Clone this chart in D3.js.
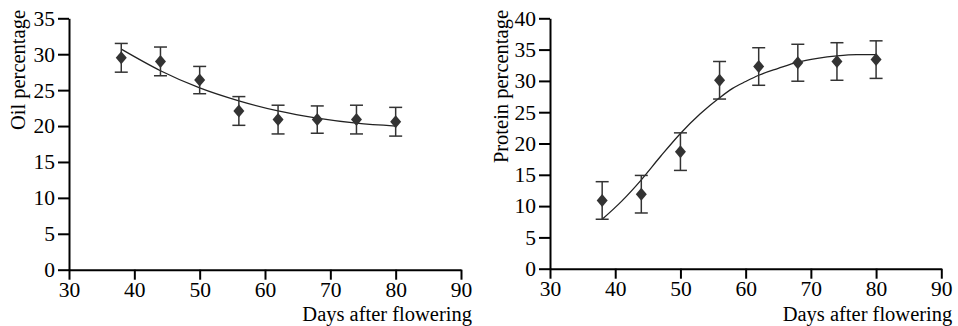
<!DOCTYPE html>
<html>
<head>
<meta charset="utf-8">
<script src="https://cdn.jsdelivr.net/npm/d3@7/dist/d3.min.js"></script>
<style>
body { margin: 0; background: #fff; }
svg text { font-family: "Liberation Serif", "Times New Roman", serif; }
</style>
</head>
<body>
<div id="chart"></div>
<script>
var WIDTH = 958;
var HEIGHT = 326;

var days = [38, 44, 50, 56, 62, 68, 74, 80];
var oilMean = [29.5, 29.0, 26.4, 22.1, 20.9, 20.9, 20.9, 20.6];
var oilErr = [2.0, 2.0, 1.9, 2.0, 2.0, 1.9, 2.0, 2.0];
var oilFitDays = [38, 44, 50, 56, 62, 68, 74, 80];
var oilFit = [30.7, 27.7, 25.3, 23.5, 22.1, 21.1, 20.4, 20.0];

var proteinMean = [10.9, 11.9, 18.7, 30.1, 32.3, 32.9, 33.1, 33.4];
var proteinErr = [3.0, 3.0, 3.0, 3.0, 3.0, 2.95, 3.0, 3.0];
var proteinFitDays = [38, 41, 44, 47, 50, 53, 56, 58, 60, 62, 65, 68, 71, 74, 77, 80];
var proteinFit = [7.9, 10.8, 14.2, 18.0, 21.6, 24.7, 27.3, 28.8, 29.9, 30.9, 32.0, 33.0, 33.6, 34.0, 34.2, 34.2];

var xTicks = [30, 40, 50, 60, 70, 80, 90];
var oilTicks = [0, 5, 10, 15, 20, 25, 30, 35];
var proteinTicks = [0, 5, 10, 15, 20, 25, 30, 35, 40];

var svg = d3.select("#chart").append("svg")
    .attr("width", WIDTH)
    .attr("height", HEIGHT);

function drawPanel(opt) {
    var g = svg.append("g");
    var x = d3.scaleLinear().domain([30, 90]).range([opt.left, opt.right]);
    var y = d3.scaleLinear().domain([0, opt.yMax]).range([opt.bottom, opt.top]);

    var xAxis = g.append("g")
        .attr("transform", "translate(0," + opt.bottom + ")")
        .call(d3.axisBottom(x).tickValues(xTicks).tickSize(10).tickPadding(2).tickSizeOuter(0));
    var yAxis = g.append("g")
        .attr("transform", "translate(" + opt.left + ",0)")
        .call(d3.axisLeft(y).tickValues(opt.ticks).tickSize(11).tickPadding(3).tickSizeOuter(0));
    [xAxis, yAxis].forEach(function (a) {
        a.select(".domain").attr("stroke", "#000").attr("stroke-width", 2);
        a.selectAll(".tick line").attr("stroke", "#000").attr("stroke-width", 2);
        a.selectAll(".tick text").attr("fill", "#000").style("font-size", "21.5px");
    });

    // fitted curve
    var line = d3.line()
        .x(function (d, i) { return x(opt.fitDays[i]); })
        .y(function (d) { return y(d); })
        .curve(d3.curveMonotoneX);
    g.append("path")
        .datum(opt.fit)
        .attr("d", line)
        .attr("fill", "none")
        .attr("stroke", "#222")
        .attr("stroke-width", 1.3);

    // error bars
    var bars = g.selectAll(".err").data(opt.mean).enter().append("g");
    bars.append("line")
        .attr("x1", function (d, i) { return x(days[i]); })
        .attr("x2", function (d, i) { return x(days[i]); })
        .attr("y1", function (d, i) { return y(d - opt.err[i]); })
        .attr("y2", function (d, i) { return y(d + opt.err[i]); })
        .attr("stroke", "#333").attr("stroke-width", 1.5);
    [-1, 1].forEach(function (s) {
        bars.append("line")
            .attr("x1", function (d, i) { return x(days[i]) - 6.5; })
            .attr("x2", function (d, i) { return x(days[i]) + 6.5; })
            .attr("y1", function (d, i) { return y(d + s * opt.err[i]); })
            .attr("y2", function (d, i) { return y(d + s * opt.err[i]); })
            .attr("stroke", "#333").attr("stroke-width", 1.5);
    });

    // diamonds
    g.selectAll(".pt").data(opt.mean).enter().append("path")
        .attr("transform", function (d, i) { return "translate(" + x(days[i]) + "," + y(d) + ")"; })
        .attr("d", "M0,-6.5L5.5,0L0,6.5L-5.5,0Z")
        .attr("fill", "#333");

    g.append("text")
        .attr("transform", "translate(" + opt.titleX + "," + 10 + ") rotate(-90)")
        .attr("text-anchor", "end")
        .style("font-size", "20.5px")
        .text(opt.yTitle);

    g.append("text")
        .attr("x", opt.right + 11)
        .attr("y", 321)
        .attr("text-anchor", "end")
        .style("font-size", "20.5px")
        .text("Days after flowering");
}

drawPanel({
    left: 69, right: 461, top: 18.3, bottom: 269.7, yMax: 35,
    ticks: oilTicks, mean: oilMean, err: oilErr,
    fitDays: oilFitDays, fit: oilFit,
    yTitle: "Oil percentage", titleX: 25
});

drawPanel({
    left: 550, right: 941.3, top: 18.3, bottom: 268.7, yMax: 40,
    ticks: proteinTicks, mean: proteinMean, err: proteinErr,
    fitDays: proteinFitDays, fit: proteinFit,
    yTitle: "Protein percentage", titleX: 508
});
</script>
</body>
</html>
